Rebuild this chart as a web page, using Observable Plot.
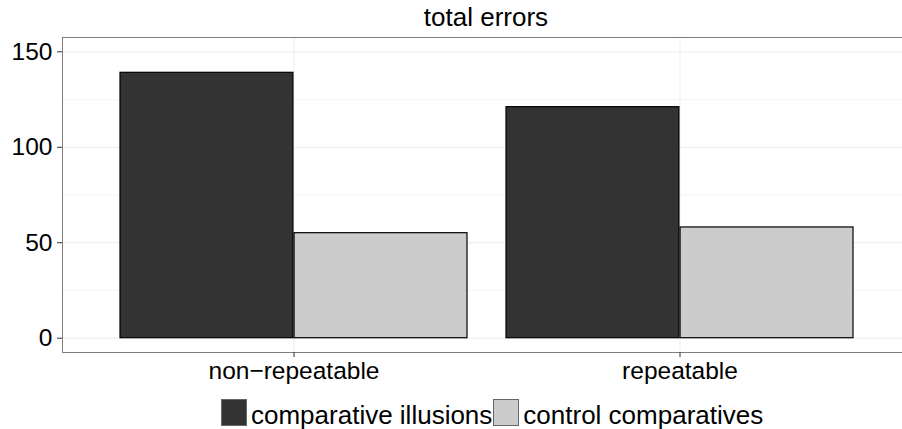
<!DOCTYPE html>
<html>
<head>
<meta charset="utf-8">
<script src="https://cdn.jsdelivr.net/npm/d3@7"></script>
<script src="https://cdn.jsdelivr.net/npm/@observablehq/plot@0.6"></script>
<style>
  html, body { margin: 0; padding: 0; background: #fff; }
  body { width: 902px; height: 429px; overflow: hidden; font-family: "Liberation Sans", Arial, sans-serif; position: relative; }
  #title { height: 30px; width: 902px; text-align: center; font-size: 26px; line-height: 35px; color: #000; padding-left: 70px; box-sizing: border-box; white-space: nowrap; }
  #chart svg { display: block; }
  #legend { position: absolute; top: 399px; left: 221px; height: 30px; display: flex; align-items: flex-start; font-size: 26px; color: #000; white-space: nowrap; }
  .item { display: flex; align-items: flex-start; }
  .key { width: 26px; height: 27px; border: 1px solid #666; box-sizing: border-box; margin-right: 4px; }
  .lab { line-height: 26px; position: relative; top: 3px; margin-right: 1px; }
</style>
</head>
<body>
<div id="title">total errors</div>
<div id="chart"></div>
<div id="legend"></div>
<script>
const categories = ["non\u2212repeatable", "repeatable"];
const series = ["comparative illusions", "control comparatives"];
const illusions = [139, 121];   // comparative illusions per category
const controls = [55, 58];      // control comparatives per category
const colors = ["#333333", "#cccccc"];
const yTicks = [0, 50, 100, 150];
const yMinor = [25, 75, 125];

const data = [];
categories.forEach((c, i) => {
  data.push({category: c, group: series[0], value: illusions[i]});
  data.push({category: c, group: series[1], value: controls[i]});
});

const W = 902, H = 362;
const xRange = [61, 912];
const padInner = 0.1, padOuter = 0.15;
const step = (xRange[1] - xRange[0]) / (categories.length - padInner + 2 * padOuter);
const half = step * (1 - padInner) / 2;

const plot = Plot.plot({
  width: W,
  height: H,
  marginLeft: 62,
  marginRight: 0,
  marginTop: 7,
  marginBottom: 40,
  style: {fontFamily: "'Liberation Sans', Arial, sans-serif", fontSize: "24.5px", background: "#fff", overflow: "visible"},
  x: {domain: categories, range: xRange, paddingInner: padInner, paddingOuter: padOuter, label: null},
  y: {domain: [0, 150], range: [307.7, 21.3], label: null},
  color: {domain: series, range: colors},
  marks: [
    Plot.ruleY(yMinor, {stroke: "#f5f5f5", strokeWidth: 1.2}),
    Plot.ruleY(yTicks, {stroke: "#e8e8e8", strokeWidth: 0.8}),
    Plot.ruleX(categories, {x: d => d, stroke: "#e8e8e8", strokeWidth: 0.8}),
    Plot.barY(data.filter(d => d.group === series[0]), {x: "category", y: "value", fill: "group", stroke: "#000", strokeWidth: 1.2, insetRight: half}),
    Plot.barY(data.filter(d => d.group === series[1]), {x: "category", y: "value", fill: "group", stroke: "#000", strokeWidth: 1.2, insetLeft: half}),
    Plot.frame({stroke: "#7f7f7f", strokeWidth: 1}),
    Plot.axisY(yTicks, {tickSize: 5, tickPadding: 5, stroke: "#333", fill: "#000", label: null, fontSize: 24.5}),
    Plot.axisX({tickSize: 5, tickPadding: 4, stroke: "#333", fill: "#000", label: null, fontSize: 24.5})
  ]
});
document.getElementById("chart").appendChild(plot);

const legend = document.getElementById("legend");
series.forEach((s, i) => {
  const item = document.createElement("div");
  item.className = "item";
  const key = document.createElement("div");
  key.className = "key";
  key.style.background = colors[i];
  const label = document.createElement("span");
  label.className = "lab";
  label.textContent = s;
  item.appendChild(key);
  item.appendChild(label);
  legend.appendChild(item);
});
</script>
</body>
</html>
